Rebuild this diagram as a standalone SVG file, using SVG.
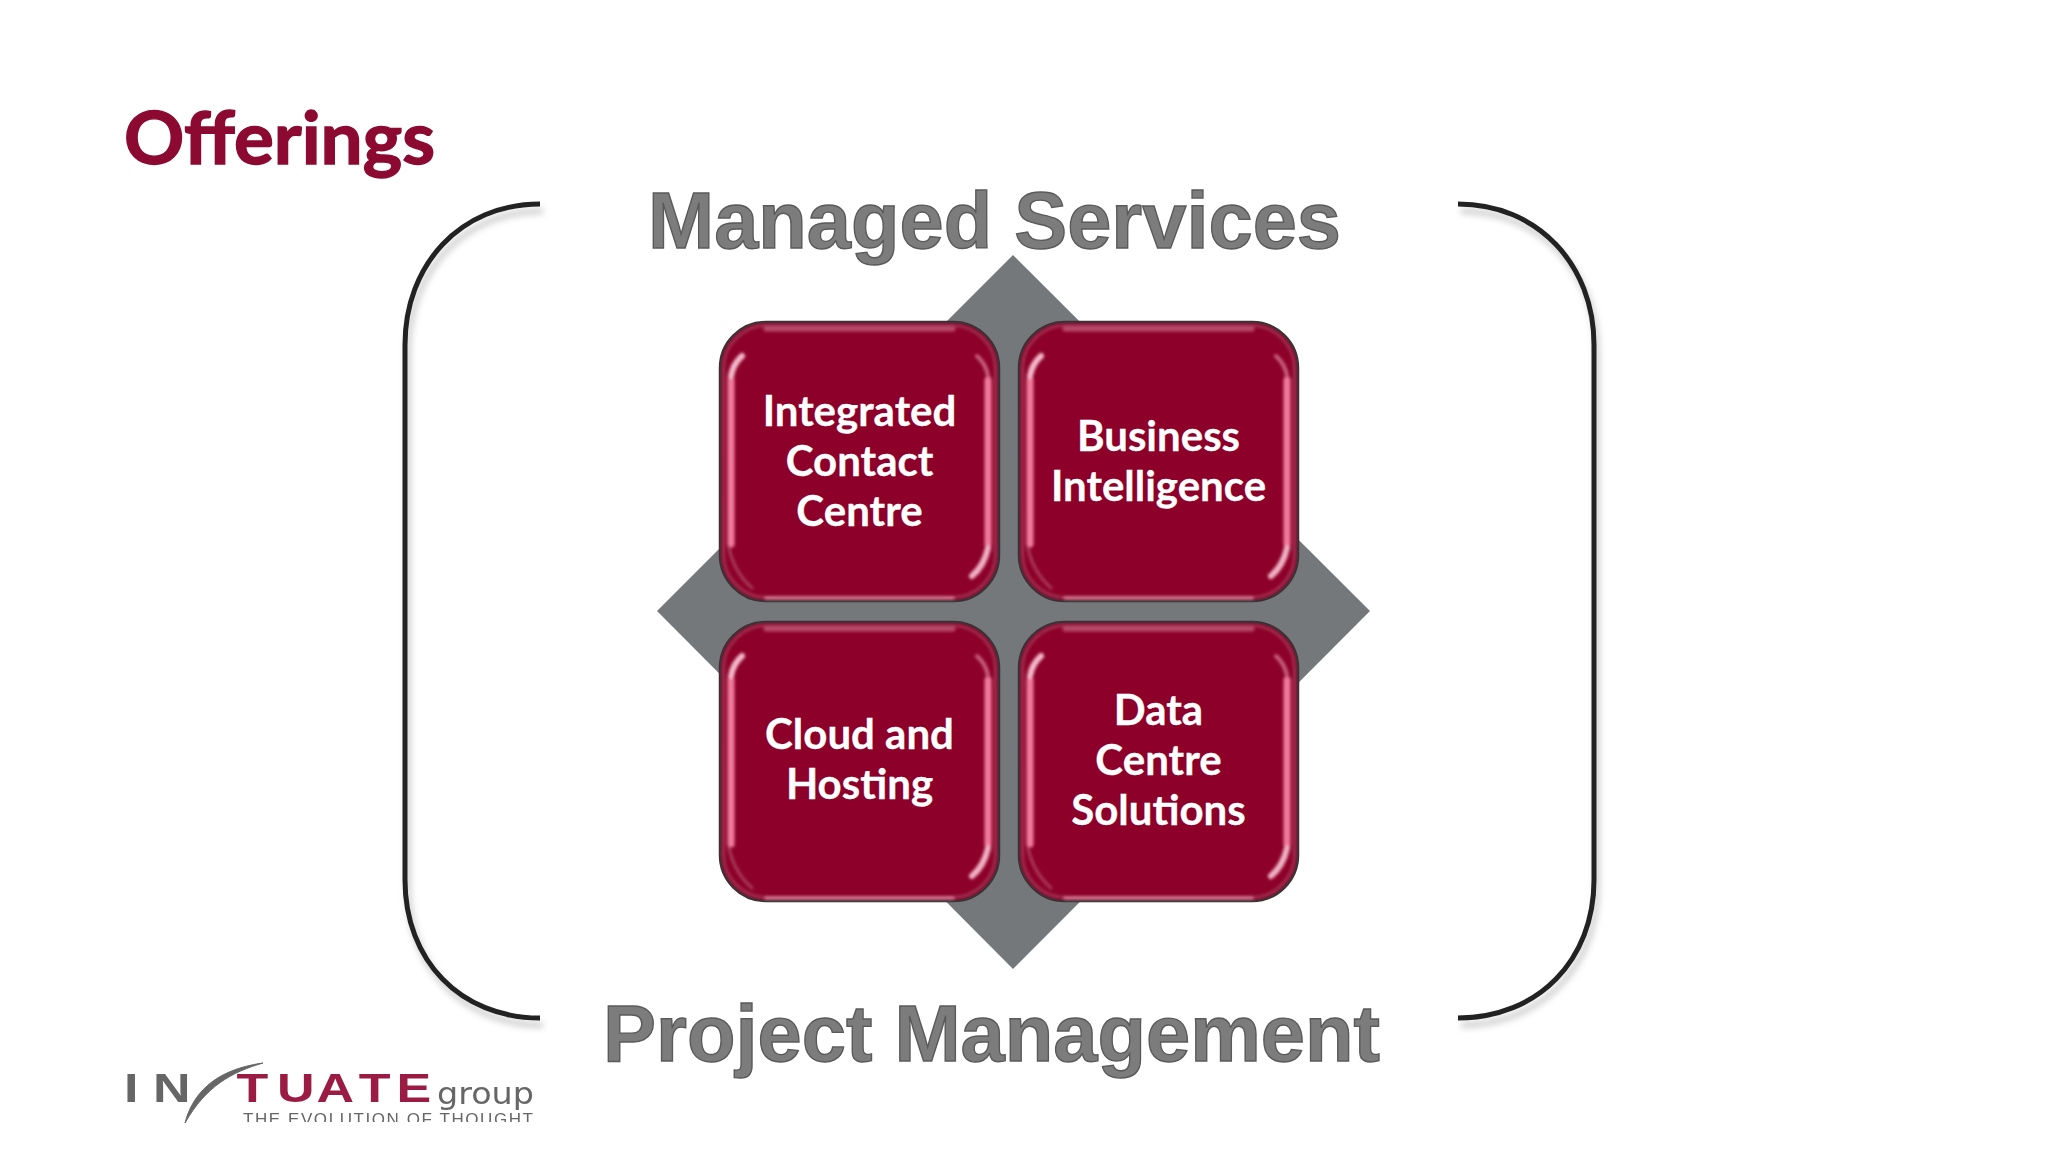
<svg xmlns="http://www.w3.org/2000/svg" width="2048" height="1152" viewBox="0 0 2048 1152">
<style>
.title{font:700 72px Lato,"Liberation Sans",sans-serif;fill:#8c0a32;stroke:#8c0a32;stroke-width:1.4}
.head{font:700 80px "Liberation Sans",Arial,sans-serif;fill:#7c7c7c;stroke:#5a5a5a;stroke-width:1.4;filter:url(#soft)}
.lbl{font:700 42px Lato,"Liberation Sans",sans-serif;fill:#fff;stroke:#fff;stroke-width:.3;text-anchor:middle}
.brk{fill:none;stroke:#222;stroke-width:5}
.brs{fill:none;stroke:#aaa;stroke-width:6;filter:url(#b3);opacity:.55}
.lg{font-family:"Liberation Sans",Arial,sans-serif}
</style>
<defs>
<filter id="soft" x="-5%" y="-5%" width="110%" height="110%"><feGaussianBlur stdDeviation="0.6"/></filter>
<filter id="b1" x="-30%" y="-30%" width="160%" height="160%"><feGaussianBlur stdDeviation="1.5"/></filter>
<filter id="b3" x="-10%" y="-10%" width="120%" height="120%"><feGaussianBlur stdDeviation="3"/></filter>
<g id="tile">
<rect x="0" y="0" width="279" height="279" rx="46" fill="#8d0029" stroke="#3a3034" stroke-width="2.5"/>
<g filter="url(#b1)" fill="none" stroke-linecap="round">
<rect x="3.5" y="3.5" width="272" height="272" rx="43" stroke="#9c3050" stroke-width="3"/>
<path d="M46 7H233" stroke="#b84a6a" stroke-width="5"/>
<path d="M46 276H233" stroke="#dc8aa0" stroke-width="3"/>
<path d="M11 222V58" stroke="#f07a9c" stroke-width="7"/>
<path d="M268 222V58" stroke="#f07a9c" stroke-width="7"/>
<path d="M11 54Q13 42 22 34" stroke="#f4b8ca" stroke-width="6"/>
<path d="M268 54Q266 42 257 34" stroke="#c8607e" stroke-width="4"/>
<path d="M268 226Q264 244 252 254" stroke="#f0b0c4" stroke-width="6"/>
<path d="M9 226Q14 250 32 266" stroke="#a83c5c" stroke-width="3"/>
</g>
</g>
<clipPath id="cut"><rect x="230" y="1108" width="310" height="14"/></clipPath>
</defs>
<rect width="2048" height="1152" fill="#fff"/>
<text class="title" x="124" y="164" textLength="311" lengthAdjust="spacingAndGlyphs">Offerings</text>
<text class="head" x="648" y="248" textLength="693" lengthAdjust="spacingAndGlyphs">Managed Services</text>
<text class="head" x="603" y="1061" textLength="777" lengthAdjust="spacingAndGlyphs">Project Management</text>
<g id="connectors">
<path class="brs" transform="translate(3,7)" d="M540 204C460 204 405 265 405 345V880C405 960 460 1018 540 1018"/>
<path class="brs" transform="translate(3,7)" d="M1458 204C1538 204 1594 265 1594 345V880C1594 960 1538 1018 1458 1018"/>
<path class="brk" d="M540 204C460 204 405 265 405 345V880C405 960 460 1018 540 1018"/>
<path class="brk" d="M1458 204C1538 204 1594 265 1594 345V880C1594 960 1538 1018 1458 1018"/>
</g>
<polygon id="diamond" points="1013,255 1370,611 1013,969 657,611" fill="#74787b"/>
<g id="node-integrated" transform="translate(720,322)"><use href="#tile"/></g>
<g id="node-business" transform="translate(1019,322)"><use href="#tile"/></g>
<g id="node-cloud" transform="translate(720,622)"><use href="#tile"/></g>
<g id="node-data" transform="translate(1019,622)"><use href="#tile"/></g>
<text class="lbl" x="859.5" y="426">Integrated</text>
<text class="lbl" x="859.5" y="476">Contact</text>
<text class="lbl" x="859.5" y="526">Centre</text>
<text class="lbl" x="1158.5" y="451">Business</text>
<text class="lbl" x="1158.5" y="501">Intelligence</text>
<text class="lbl" x="859.5" y="749">Cloud and</text>
<text class="lbl" x="859.5" y="799">Hosting</text>
<text class="lbl" x="1158.5" y="725">Data</text>
<text class="lbl" x="1158.5" y="775">Centre</text>
<text class="lbl" x="1158.5" y="825">Solutions</text>
<g id="logo" filter="url(#soft)">
<text class="lg" transform="scale(1.3,1)" x="95.4 117.7" y="1102" font-size="40" font-weight="700" fill="#666">IN</text>
<path d="M185 1123C192 1096 212 1070 263 1063C232 1072 206 1086 185 1123Z" fill="#666" stroke="#666" stroke-width="1"/>
<text class="lg" transform="scale(1.3,1)" x="182 213 243.5 276 305" y="1102" font-size="40" font-weight="700" fill="#9a1f45">TUATE</text>
<text class="lg" x="437" y="1104" font-size="30" fill="#666" style="font-family:'DejaVu Sans',sans-serif" textLength="97" lengthAdjust="spacingAndGlyphs">group</text>
<g clip-path="url(#cut)"><text class="lg" x="243" y="1125" font-size="17" fill="#666" textLength="290" lengthAdjust="spacing">THE EVOLUTION OF THOUGHT</text></g>
</g>
</svg>
